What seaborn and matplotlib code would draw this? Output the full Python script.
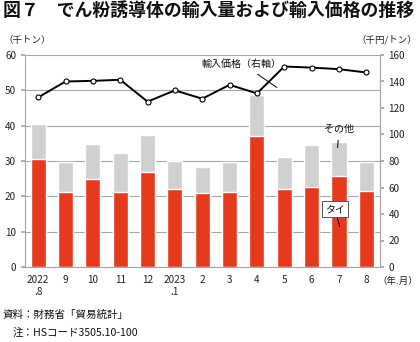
import matplotlib
matplotlib.use("Agg")
import matplotlib.pyplot as plt
import seaborn as sns
import pandas as pd

sns.set_theme(style="white")
plt.rcParams['font.family'] = ['Noto Sans CJK JP', 'DejaVu Sans']

months = ["2022\n.8", "9", "10", "11", "12", "2023\n.1", "2", "3", "4", "5", "6", "7", "8"]
thai = [30.5, 21.3, 25.0, 21.1, 27.0, 22.0, 21.0, 21.2, 37.0, 22.0, 22.6, 25.8, 21.4]
total = [40.6, 29.8, 34.8, 32.3, 37.3, 30.1, 28.3, 29.8, 48.6, 31.0, 34.5, 35.4, 29.7]
price = [128.0, 140.0, 140.5, 141.3, 124.8, 133.3, 127.0, 137.5, 131.0, 151.3, 150.5, 149.3, 146.8]

df = pd.DataFrame({"month": months, "thai": thai, "total": total, "price": price})

fig = plt.figure(figsize=(4.2, 3.42), dpi=100)
ax = fig.add_axes([24.5/420, 1 - 267/342, (380 - 24.5)/420, (267 - 55)/342])

sns.barplot(data=df, x="month", y="total", color="#D0D0D0", width=0.55, ax=ax,
            saturation=1, zorder=2)
sns.barplot(data=df, x="month", y="thai", color="#E63A1E", width=0.55, ax=ax,
            saturation=1, zorder=3)
ax.set_xlim(-0.5, 12.5)
ax.set_ylim(0, 60)
ax.set_yticks(range(0, 61, 10))
ax.yaxis.grid(True, color="#A6A6A6", linewidth=0.8)
ax.set_axisbelow(True)
ax.set_xlabel("")
ax.set_ylabel("")
ax.spines["top"].set_visible(False)
for s in ["left", "right", "bottom"]:
    ax.spines[s].set_color("#A6A6A6")
    ax.spines[s].set_linewidth(0.8)
ax.tick_params(axis="y", labelsize=7.2, length=0, pad=3, colors="#222222")
ax.tick_params(axis="x", labelsize=7.2, length=0, pad=6, colors="#222222")
ax.set_xticks([i + 0.5 for i in range(-1, 13)], minor=True)
ax.tick_params(axis="x", which="minor", length=3, color="#A6A6A6", direction="out")
ax.tick_params(axis="y", which="major", length=3, color="#A6A6A6", direction="out")

ax2 = ax.twinx()
sns.lineplot(data=df, x="month", y="price", ax=ax2, color="black", linewidth=1.4,
             marker="o", markersize=3.6, markerfacecolor="white",
             markeredgecolor="black", markeredgewidth=0.8, sort=False, zorder=5)
ax2.set_ylim(0, 160)
ax2.set_yticks(range(0, 161, 20))
ax2.set_ylabel("")
ax2.set_xlabel("")
for s in ["top", "left", "bottom"]:
    ax2.spines[s].set_visible(False)
ax2.spines["right"].set_color("#A6A6A6")
ax2.spines["right"].set_linewidth(0.8)
ax2.tick_params(axis="y", labelsize=7.2, length=3, color="#A6A6A6", pad=3, colors="#222222")
ax2.set_xlim(-0.5, 12.5)

# Titles and labels
fig.text(3/420, 1 - 11/342, "図７　でん粉誘導体の輸入量および輸入価格の推移",
         fontsize=12.9, fontweight="bold", va="center", ha="left", color="#111111")
fig.text(3/420, 1 - 40/342, "（千トン）", fontsize=6.8, va="center", ha="left", color="#222222")
fig.text(417/420, 1 - 40/342, "（千円/トン）", fontsize=6.8, va="center", ha="right", color="#222222")
fig.text(398/420, 1 - 281/342, "（年.月）", fontsize=6.8, va="center", ha="center", color="#222222")
fig.text(3/420, 1 - 315/342, "資料：財務省「貿易統計」", fontsize=7.6, va="center", ha="left", color="#111111")
fig.text(13/420, 1 - 333/342, "注：HSコード3505.10-100", fontsize=7.6, va="center", ha="left", color="#111111")

# annotations
ax2.annotate("輸入価格（右軸）", xy=(8.73, 135.5), xytext=(7.45, 153.5),
             fontsize=7.2, ha="center", va="center", color="#111111",
             arrowprops=dict(arrowstyle="-", color="black", lw=0.7, shrinkA=3, shrinkB=0))
ax.annotate("その他", xy=(10.95, 33.8), xytext=(11.0, 39.0),
            fontsize=7.2, ha="center", va="center", color="#111111",
            arrowprops=dict(arrowstyle="-", color="black", lw=0.7, shrinkA=2, shrinkB=0))
ax.annotate("タイ", xy=(11.03, 11.4), xytext=(10.85, 16.3),
            fontsize=7.2, ha="center", va="center", color="#111111",
            bbox=dict(boxstyle="square,pad=0.3", fc="white", ec="#555555", lw=0.7),
            arrowprops=dict(arrowstyle="-", color="black", lw=0.7, shrinkA=0, shrinkB=0))

fig.savefig("out.png", dpi=100)
